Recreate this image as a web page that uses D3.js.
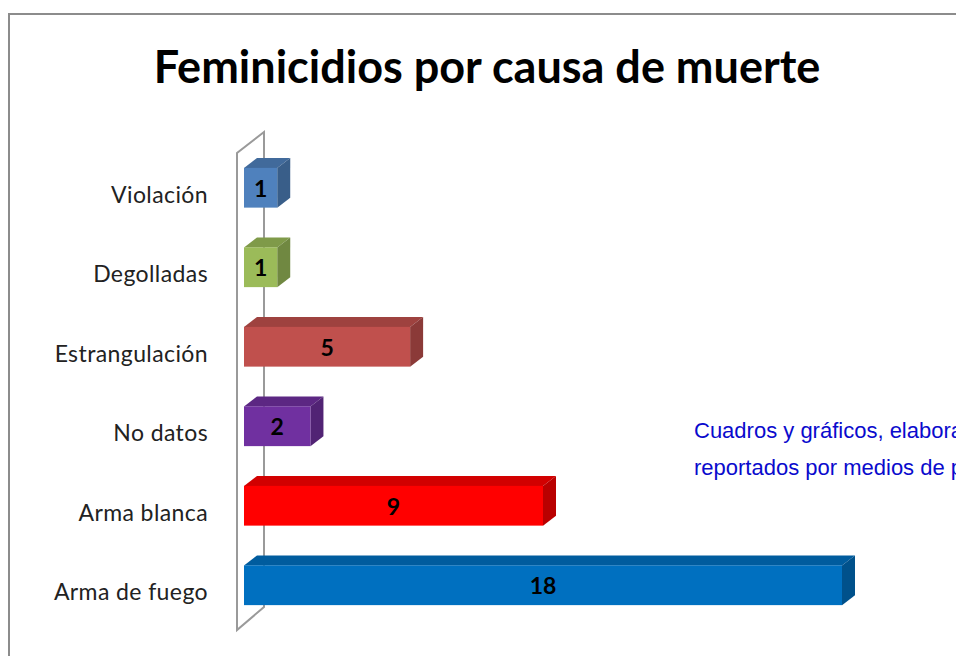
<html>
<head>
<meta charset="utf-8">
<title>Feminicidios por causa de muerte</title>
<style>
  body { margin: 0; background: #fff; }
  svg { display: block; }
</style>
</head>
<body>
<svg width="956" height="656"></svg>
<script src="https://d3js.org/d3.v7.min.js"></script>
<script>
// datos
var categorias = ["Violación", "Degolladas", "Estrangulación", "No datos", "Arma blanca", "Arma de fuego"];
var valores = [1, 1, 5, 2, 9, 18];
var colores = ["#4F81BD", "#9BBB59", "#C0504D", "#7030A0", "#FF0000", "#0070C0"];
var titulo = "Feminicidios por causa de muerte";
var nota = ["Cuadros y gráficos, elaborados con datos", "reportados por medios de prensa"];

var svg = d3.select("svg");
var dx = 13, dy = -10;   // profundidad 3D de las barras

// marco
svg.append("path")
    .attr("d", "M9,660 L9,14 L960,14")
    .attr("fill", "none")
    .attr("stroke", "#8c8c8c")
    .attr("stroke-width", 2);

// escalas
var y = d3.scaleBand()
    .domain(categorias)
    .range([148, 625])
    .paddingInner(0.5)
    .paddingOuter(0.25);

var x = d3.scaleLinear()
    .domain([0, 18])
    .range([244, 842]);

// pared del eje (3D)
var wx0 = 237, wx1 = 264;
var wallTop = y.range()[0] + 5, wallBot = y.range()[1] + 5;
svg.append("path")
    .attr("d", "M" + wx0 + "," + wallBot + " L" + wx0 + "," + wallTop +
        " L" + wx1 + "," + (wallTop - 21) + " L" + wx1 + "," + (wallBot - 23) + " Z")
    .attr("fill", "none")
    .attr("stroke", "#9a9a9a")
    .attr("stroke-width", 2);

// título
svg.append("text")
    .attr("x", 487)
    .attr("y", 83)
    .attr("text-anchor", "middle")
    .attr("font-family", "Lato, 'Open Sans', sans-serif")
    .attr("font-weight", "bold")
    .attr("font-size", 45)
    .attr("fill", "#000")
    .text(titulo);

// etiquetas de categorías
svg.append("g").selectAll("text")
    .data(categorias)
    .join("text")
    .attr("x", 208)
    .attr("y", function (d) { return y(d) + y.bandwidth() / 2 + 9; })
    .attr("text-anchor", "end")
    .attr("dominant-baseline", "middle")
    .attr("font-family", "Lato, 'Open Sans', sans-serif")
    .attr("font-size", 23)
    .attr("letter-spacing", 0.4)
    .attr("fill", "#222")
    .text(function (d) { return d; });

function shade(c, k) { return d3.color(c).darker(k).formatHex(); }

var barras = svg.append("g").selectAll("g")
    .data(categorias)
    .join("g");

// cara superior
barras.append("path")
    .attr("d", function (d, i) {
        var x0 = x(0), x1 = x(valores[i]), t = y(d);
        return "M" + x0 + "," + t + " L" + (x0 + dx) + "," + (t + dy) +
            " L" + (x1 + dx) + "," + (t + dy) + " L" + x1 + "," + t + " Z";
    })
    .attr("fill", function (d, i) { return shade(colores[i], 0.55); });

// cara lateral
barras.append("path")
    .attr("d", function (d, i) {
        var x1 = x(valores[i]), t = y(d), b = y(d) + y.bandwidth();
        return "M" + x1 + "," + t + " L" + (x1 + dx) + "," + (t + dy) +
            " L" + (x1 + dx) + "," + (b + dy) + " L" + x1 + "," + b + " Z";
    })
    .attr("fill", function (d, i) { return shade(colores[i], 0.9); });

// cara frontal
barras.append("rect")
    .attr("x", x(0))
    .attr("y", function (d) { return y(d); })
    .attr("width", function (d, i) { return x(valores[i]) - x(0); })
    .attr("height", y.bandwidth())
    .attr("fill", function (d, i) { return colores[i]; });

// valores
barras.append("text")
    .attr("x", function (d, i) { return (x(0) + x(valores[i])) / 2; })
    .attr("y", function (d) { return y(d) + y.bandwidth() / 2 + 3; })
    .attr("text-anchor", "middle")
    .attr("dominant-baseline", "middle")
    .attr("font-family", "Lato, 'Open Sans', sans-serif")
    .attr("font-weight", "bold")
    .attr("font-size", 23)
    .attr("fill", "#000")
    .text(function (d, i) { return valores[i]; });

// nota
svg.append("g").selectAll("text")
    .data(nota)
    .join("text")
    .attr("x", 694)
    .attr("y", function (d, i) { return 438 + i * 37; })
    .attr("font-family", "'Liberation Sans', Arial, sans-serif")
    .attr("font-size", 22)
    .attr("fill", "#0a0acd")
    .text(function (d) { return d; });
</script>
</body>
</html>
